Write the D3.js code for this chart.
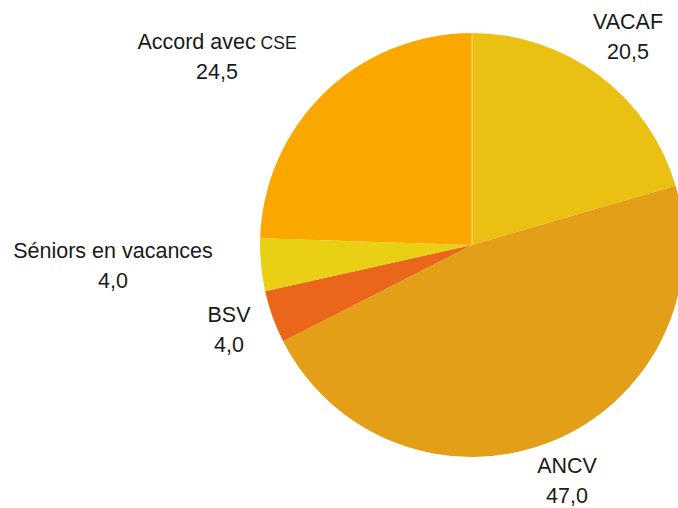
<!DOCTYPE html>
<html><head><meta charset="utf-8">
<script src="https://cdn.jsdelivr.net/npm/d3@7"></script>
<style>html,body{margin:0;padding:0;background:#fff;overflow:hidden}</style>
</head><body>
<svg id="chart" width="678" height="508"></svg>
<script>
const categories = ["VACAF", "ANCV", "BSV", "Séniors en vacances", "Accord avec"];
const suffixes = ["", "", "", "", "CSE"];
const values = [20.5, 47.0, 4.0, 4.0, 24.5];
const valueLabels = ["20,5", "47,0", "4,0", "4,0", "24,5"];
const colors = ["#EAC112", "#E39F17", "#E9661A", "#E9D015", "#FAA800"];
const labelPos = [[628, 29], [567, 473], [229, 322], [113, 258], [217, 49]];

const svg = d3.select("#chart");
const cx = 472, cy = 245, r = 212;
const g = svg.append("g").attr("transform", `translate(${cx},${cy})`);
const data = values.map((v, i) => ({v, i}));
const pie = d3.pie().value(d => d.v).sort(null);
const arc = d3.arc().innerRadius(0).outerRadius(r);
const arcs = pie(data);
g.selectAll("path").data(arcs).join("path")
  .attr("d", arc).attr("fill", d => colors[d.data.i]);
const a0 = arcs[0].startAngle;
g.append("line").attr("x1", 0).attr("y1", 0)
  .attr("x2", r * Math.sin(a0)).attr("y2", -r * Math.cos(a0))
  .attr("stroke", "#F6DE8A").attr("stroke-width", 1);

const lab = svg.append("g").attr("font-family", "'Liberation Sans', Arial, sans-serif")
  .attr("fill", "#1a1a1a").attr("text-anchor", "middle");
categories.forEach((c, i) => {
  const [x, y] = labelPos[i];
  const t = lab.append("text").attr("x", x).attr("y", y).attr("font-size", 21.5);
  t.append("tspan").text(c);
  if (suffixes[i]) t.append("tspan").attr("font-size", 17.5).text(" " + suffixes[i]);
  lab.append("text").attr("x", x).attr("y", y + 30).attr("font-size", 21.5).text(valueLabels[i]);
});
</script>
</body></html>
